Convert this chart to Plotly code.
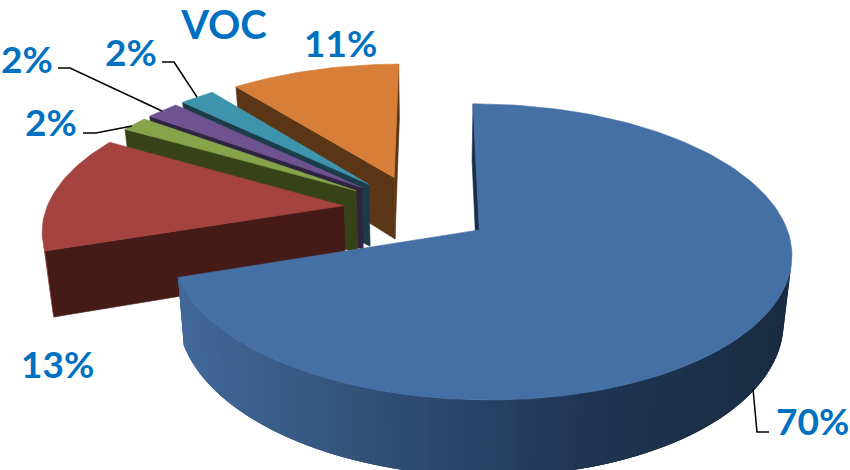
import math
import plotly.graph_objects as go

# --- data ---
CATEGORIES = ["A", "B", "C", "D", "E", "F"]
VALUES = [69.9, 13.4, 1.7, 2.1, 2.2, 10.7]
TITLE = "VOC"

# --- style ---
TOP_COLORS = ["#4570a6", "#a54340", "#86a44a", "#6f5290", "#3f94ad", "#d77f38"]
SIDE_COLORS = ["#1a2e48", "#451b18", "#374218", "#2e2340", "#1b3c49", "#5a3616"]
RIM_COLORS = ["#1a2e48", "#8c3836", "#6a8339", "#55406f", "#317589", "#a8652e"]
LABEL_COLOR = "#0070c0"
LABEL_FONT = "Lato"
LABEL_SIZE = 37
LABEL_XY = [(812, 420), (57, 363), (51, 121), (27, 58), (131, 51), (340, 42)]
LEADERS = [
    [(769, 432), (757, 432), (753, 389)],
    None,
    [(83, 133), (96, 133), (132, 126)],
    [(58, 68), (70, 68), (162, 111)],
    [(162, 62), (174, 62), (197, 97)],
    None,
]
GRADIENT = [(186, (64, 104, 152)), (300, (56, 90, 132)), (450, (42, 70, 106)),
            (600, (30, 52, 80)), (790, (26, 44, 68))]

# --- 3D view (perspective projection of an exploded disc) ---
CX, CY = 431, 230
SCALE_X, SCALE_Y = 306, 144.7
PERSP_Z, PERSP_X = 0.1486, 0.005
CENTER_X, CENTER_Z = -0.045, -0.147
EXPLODE = 0.25
HEIGHT = 65
CONVERGE = 0.023
DRAW_ORDER = [5, 4, 3, 2, 1, 0]


def project(x, z, down=False):
    w = 1 - PERSP_Z * z - PERSP_X * x
    sx = CX + SCALE_X * x / w
    sy = CY + SCALE_Y * z / w
    if down:
        sx -= CONVERGE * (sx - CX)
        sy += HEIGHT / w
    return sx, sy


def shoelace(pts):
    s = 0
    for i, (x0, y0) in enumerate(pts):
        x1, y1 = pts[(i + 1) % len(pts)]
        s += x0 * y1 - x1 * y0
    return s


def gradient_color(x):
    if x <= GRADIENT[0][0]:
        c = GRADIENT[0][1]
    elif x >= GRADIENT[-1][0]:
        c = GRADIENT[-1][1]
    else:
        for (x0, c0), (x1, c1) in zip(GRADIENT, GRADIENT[1:]):
            if x0 <= x <= x1:
                t = (x - x0) / (x1 - x0)
                c = tuple(c0[i] + t * (c1[i] - c0[i]) for i in range(3))
                break
    return "rgb(%d,%d,%d)" % tuple(round(v) for v in c)


fig = go.Figure()


def poly(pts, color, name, edge=0.6):
    fig.add_trace(go.Scatter(
        x=[p[0] for p in pts] + [pts[0][0]],
        y=[p[1] for p in pts] + [pts[0][1]],
        mode="lines", fill="toself", fillcolor=color,
        line=dict(color=color, width=edge),
        hoverinfo="skip", showlegend=False, name=name))


total = sum(VALUES)
edges = [0]
for v in VALUES:
    edges.append(edges[-1] + v / total * 2 * math.pi)

for i in DRAW_ORDER:
    t0, t1 = edges[i], edges[i + 1]
    mid = (t0 + t1) / 2
    ax = CENTER_X + EXPLODE * math.sin(mid)
    az = CENTER_Z - EXPLODE * math.cos(mid)
    n = max(6, int((t1 - t0) * 40))
    rim = [(ax + math.sin(t0 + (t1 - t0) * j / n),
            az - math.cos(t0 + (t1 - t0) * j / n)) for j in range(n + 1)]
    top_apex = project(ax, az)
    bot_apex = project(ax, az, True)
    top_rim = [project(*p) for p in rim]
    bot_rim = [project(*p, True) for p in rim]

    # cut faces
    q = [top_apex, top_rim[0], bot_rim[0], bot_apex]
    if shoelace(q) < 0:
        poly(q, SIDE_COLORS[i], CATEGORIES[i])
    q = [top_rim[-1], top_apex, bot_apex, bot_rim[-1]]
    if shoelace(q) < 0:
        poly(q, SIDE_COLORS[i], CATEGORIES[i])
    # outer wall: each band overlaps the next one so no seams show
    for j in range(n):
        q = [top_rim[j], top_rim[j + 1], bot_rim[j + 1], bot_rim[j]]
        if shoelace(q) < 0:
            color = gradient_color((q[0][0] + q[1][0]) / 2) if i == 0 else RIM_COLORS[i]
            wide = q
            if i == 0:
                k2 = min(n, j + 3)
                wide = top_rim[j:k2 + 1] + bot_rim[j:k2 + 1][::-1]
            poly(wide, color, CATEGORIES[i], edge=0)
    # top
    poly([top_apex] + top_rim, TOP_COLORS[i], CATEGORIES[i])

shapes = []
for pts in LEADERS:
    if pts:
        shapes.append(dict(type="path",
                           path="M" + " L".join(f"{x},{y}" for x, y in pts),
                           line=dict(color="#000000", width=1.5), layer="above"))

annotations = [dict(x=x, y=y, text=f"{v:.0f}%", showarrow=False,
                    xanchor="center", yanchor="middle",
                    font=dict(family=LABEL_FONT, size=LABEL_SIZE, color=LABEL_COLOR, weight="bold"))
               for v, (x, y) in zip(VALUES, LABEL_XY)]

fig.update_layout(
    width=850, height=470, margin=dict(l=0, r=0, t=0, b=0),
    paper_bgcolor="white", plot_bgcolor="white", showlegend=False,
    title=dict(text=TITLE, x=224 / 850, y=1 - 25 / 470, xanchor="center", yanchor="middle",
               font=dict(family=LABEL_FONT, size=40, color=LABEL_COLOR, weight="bold")),
    xaxis=dict(range=[0, 850], visible=False, fixedrange=True),
    yaxis=dict(range=[470, 0], visible=False, fixedrange=True),
    shapes=shapes, annotations=annotations,
)
fig.write_html("out.html", config={"displayModeBar": False},
               post_script="document.body.style.margin='0';")
